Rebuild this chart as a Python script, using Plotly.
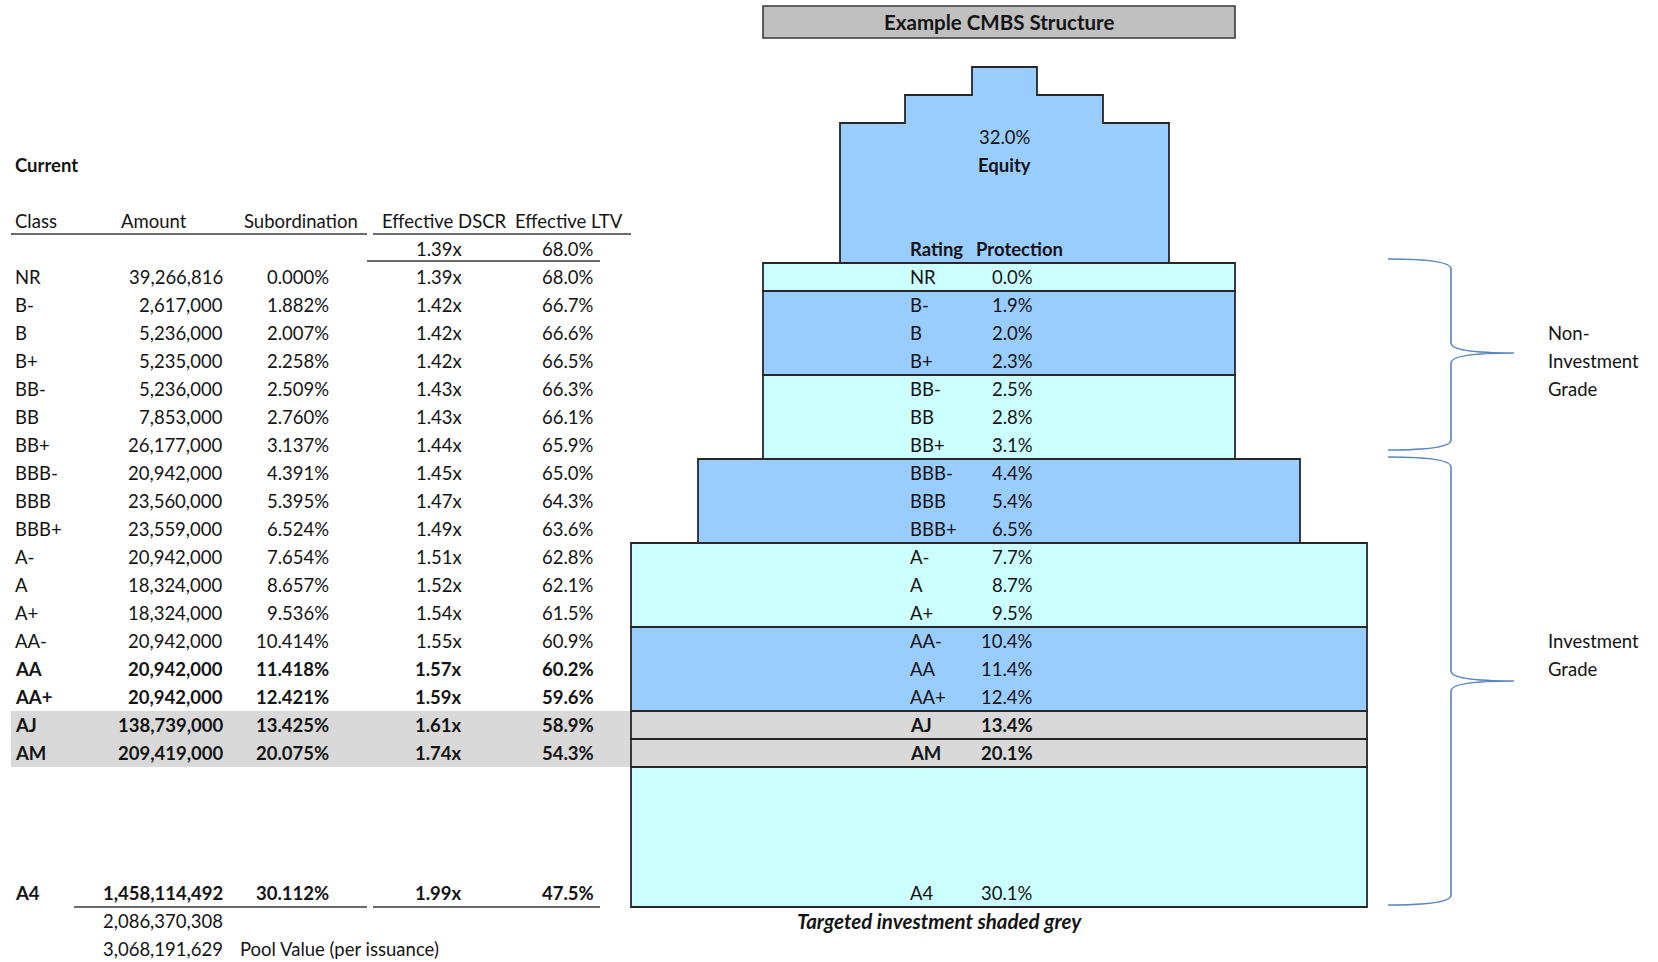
import plotly.graph_objects as go

# ---- Tranche data -------------------------------------------------------
classes = ["NR", "B-", "B", "B+", "BB-", "BB", "BB+", "BBB-", "BBB", "BBB+",
           "A-", "A", "A+", "AA-", "AA", "AA+", "AJ", "AM", "A4"]
amounts = [39266816, 2617000, 5236000, 5235000, 5236000, 7853000, 26177000,
           20942000, 23560000, 23559000, 20942000, 18324000, 18324000,
           20942000, 20942000, 20942000, 138739000, 209419000, 1458114492]
subordination = [0.000, 1.882, 2.007, 2.258, 2.509, 2.760, 3.137, 4.391, 5.395,
                 6.524, 7.654, 8.657, 9.536, 10.414, 11.418, 12.421, 13.425,
                 20.075, 30.112]
eff_dscr = [1.39, 1.42, 1.42, 1.42, 1.43, 1.43, 1.44, 1.45, 1.47, 1.49, 1.51,
            1.52, 1.54, 1.55, 1.57, 1.59, 1.61, 1.74, 1.99]
eff_ltv = [68.0, 66.7, 66.6, 66.5, 66.3, 66.1, 65.9, 65.0, 64.3, 63.6, 62.8,
           62.1, 61.5, 60.9, 60.2, 59.6, 58.9, 54.3, 47.5]
bold_classes = ["AA", "AA+", "AJ", "AM", "A4"]
targeted_classes = ["AJ", "AM"]

pool_dscr = 1.39
pool_ltv = 68.0
equity_pct = 32.0
pool_value = 3068191629

# groups of tranches drawn as one block in the structure diagram
structure_groups = [["NR"], ["B-", "B", "B+"], ["BB-", "BB", "BB+"],
                    ["BBB-", "BBB", "BBB+"], ["A-", "A", "A+"],
                    ["AA-", "AA", "AA+"], ["AJ"], ["AM"], ["A4"]]
grade_labels = ["Non-<br>Investment<br>Grade", "Investment<br>Grade"]

# ---- Layout helpers ------------------------------------------------------
W, H = 1658, 962
ROW_PX, ROW0_PX = 28.0, 277.0          # row height and first data row centre


def row_of(px):
    return (px - ROW0_PX) / ROW_PX


# table row index for each class (A4 sits below a few blank rows)
table_row = {c: (i if c != "A4" else 22) for i, c in enumerate(classes)}

FONT = "Lato, 'Open Sans', sans-serif"
FS = 18.5
INK = "#141414"
BLUE = "#99CCFF"
CYAN = "#CCFFFF"
GREY = "#D9D9D9"
EDGE = "#262626"
BRACE = "#5A86C0"

fig = go.Figure()
ann = []
shapes = []


def text(x, r, s, anchor="left", bold=False, italic=False, size=FS):
    if bold:
        s = "<b>" + s + "</b>"
    if italic:
        s = "<i>" + s + "</i>"
    ann.append(dict(x=x, y=r, xref="x", yref="y", text=s, showarrow=False,
                    xanchor=anchor, yanchor="middle", borderpad=0,
                    font=dict(family=FONT, size=size, color=INK)))


def hline(x0, x1, r, color="#3a3a3a", width=1.6):
    shapes.append(dict(type="line", xref="x", yref="y", x0=x0, x1=x1,
                       y0=r, y1=r, line=dict(color=color, width=width)))


# ---- Left table ---------------------------------------------------------
COL_CLASS, COL_AMT, COL_SUB, COL_DSCR, COL_LTV = 14, 224, 330, 463, 595

# grey shading of the targeted tranches
for c in targeted_classes:
    r = table_row[c]
    shapes.append(dict(type="rect", xref="x", yref="y", x0=11, x1=631,
                       y0=r - 0.5, y1=r + 0.5, fillcolor=GREY,
                       line=dict(width=0), layer="below"))

text(COL_CLASS, -4, "Current", bold=True)
text(COL_CLASS, -2, "Class")
text(154, -2, "Amount", anchor="center")
text(301, -2, "Subordination", anchor="center")
text(444, -2, "Effective DSCR", anchor="center")
text(569, -2, "Effective LTV", anchor="center")
hline(11, 367, row_of(234))
hline(373, 631, row_of(234))

text(COL_DSCR, -1, f"{pool_dscr:.2f}x", anchor="right")
text(COL_LTV, -1, f"{pool_ltv:.1f}%", anchor="right")
hline(367, 600, row_of(261))

for c, a, s, d, l in zip(classes, amounts, subordination, eff_dscr, eff_ltv):
    r = table_row[c]
    b = c in bold_classes
    text(COL_CLASS, r, c, bold=b)
    text(COL_AMT, r, f"{a:,}", anchor="right", bold=b)
    text(COL_SUB, r, f"{s:.3f}%", anchor="right", bold=b)
    text(COL_DSCR, r, f"{d:.2f}x", anchor="right", bold=b)
    text(COL_LTV, r, f"{l:.1f}%", anchor="right", bold=b)

last = table_row["A4"]
hline(74, 367, last + 0.5)
hline(373, 600, last + 0.5)
text(COL_AMT, last + 1, f"{sum(amounts):,}", anchor="right")
text(COL_AMT, last + 2, f"{pool_value:,}", anchor="right")
text(239, last + 2, "Pool Value (per issuance)")

# ---- Structure diagram --------------------------------------------------
NARROW, MID, WIDE = (763, 1235), (698, 1300), (631, 1367)
group_extent = [NARROW, NARROW, NARROW, MID, WIDE, WIDE, WIDE, WIDE, WIDE]
group_fill = [CYAN, BLUE, CYAN, BLUE, CYAN, BLUE, GREY, GREY, CYAN]

# title box
shapes.append(dict(type="rect", xref="x", yref="y", x0=763, x1=1235,
                   y0=row_of(6), y1=row_of(38), fillcolor="#C0C0C0",
                   line=dict(color="#3a3a3a", width=1.6)))
text(999, row_of(22), "Example CMBS Structure", anchor="center", bold=True,
     size=20.5)

# stepped equity block on top: (left, right, top row) for each tier
top_row = table_row[classes[0]] - 0.5
eq_steps = [(840, 1169, -5.5), (905, 1103, -6.5), (972, 1037, -7.5)]
pts = [(eq_steps[0][0], top_row), (eq_steps[0][0], eq_steps[0][2]),
       (eq_steps[1][0], eq_steps[0][2]), (eq_steps[1][0], eq_steps[1][2]),
       (eq_steps[2][0], eq_steps[1][2]), (eq_steps[2][0], eq_steps[2][2]),
       (eq_steps[2][1], eq_steps[2][2]), (eq_steps[2][1], eq_steps[1][2]),
       (eq_steps[1][1], eq_steps[1][2]), (eq_steps[1][1], eq_steps[0][2]),
       (eq_steps[0][1], eq_steps[0][2]), (eq_steps[0][1], top_row)]
path = "M " + " L ".join(f"{x},{y}" for x, y in pts) + " Z"
shapes.append(dict(type="path", xref="x", yref="y", path=path,
                   fillcolor=BLUE, line=dict(color=EDGE, width=1.8)))
eq_mid = (eq_steps[0][0] + eq_steps[0][1]) / 2
text(eq_mid, -5, f"{equity_pct:.1f}%", anchor="center")
text(eq_mid, -4, "Equity", anchor="center", bold=True)

RATING_X, PROT_X = 909, 1034
text(RATING_X, -1, "Rating", bold=True)
text(975, -1, "Protection", bold=True)

prev_bottom = top_row
for grp, (x0, x1), fill in zip(structure_groups, group_extent, group_fill):
    bottom = table_row[grp[-1]] + 0.5
    shapes.append(dict(type="rect", xref="x", yref="y", x0=x0, x1=x1,
                       y0=prev_bottom, y1=bottom, fillcolor=fill,
                       line=dict(color=EDGE, width=1.8)))
    prev_bottom = bottom
    for c in grp:
        i = classes.index(c)
        b = c in targeted_classes
        text(RATING_X, table_row[c], c, bold=b)
        text(PROT_X, table_row[c], f"{round(subordination[i], 1):.1f}%",
             anchor="right", bold=b)

text(939, last + 1, "Targeted investment shaded grey", anchor="center",
     bold=True, italic=True, size=20.5)

# ---- Grade braces -------------------------------------------------------
def brace(top_px, bot_px, tip_px, x_end=1388, x_bar=1451, x_tip=1514):
    t, b, m = row_of(top_px), row_of(bot_px), row_of(tip_px)
    k = 10 / ROW_PX
    return (f"M {x_end},{t} Q {x_bar},{t} {x_bar},{t + k} "
            f"L {x_bar},{m - k} Q {x_bar},{m} {x_tip},{m} "
            f"Q {x_bar},{m} {x_bar},{m + k} "
            f"L {x_bar},{b - k} Q {x_bar},{b} {x_end},{b}")


for (t, b, m), lab, first_row in zip(
        [(259, 450, 353), (457, 905, 681)], grade_labels, [2, 13]):
    shapes.append(dict(type="path", xref="x", yref="y", path=brace(t, b, m),
                       line=dict(color=BRACE, width=1.6)))
    for j, part in enumerate(lab.split("<br>")):
        text(1547, first_row + j, part)

fig.update_layout(
    width=W, height=H, margin=dict(l=0, r=0, t=0, b=0),
    paper_bgcolor="white", plot_bgcolor="white", showlegend=False,
    xaxis=dict(range=[0, W], visible=False, fixedrange=True),
    yaxis=dict(range=[row_of(H), row_of(0)], visible=False, fixedrange=True),
    shapes=shapes, annotations=ann,
)

fig.write_html("out.html")
